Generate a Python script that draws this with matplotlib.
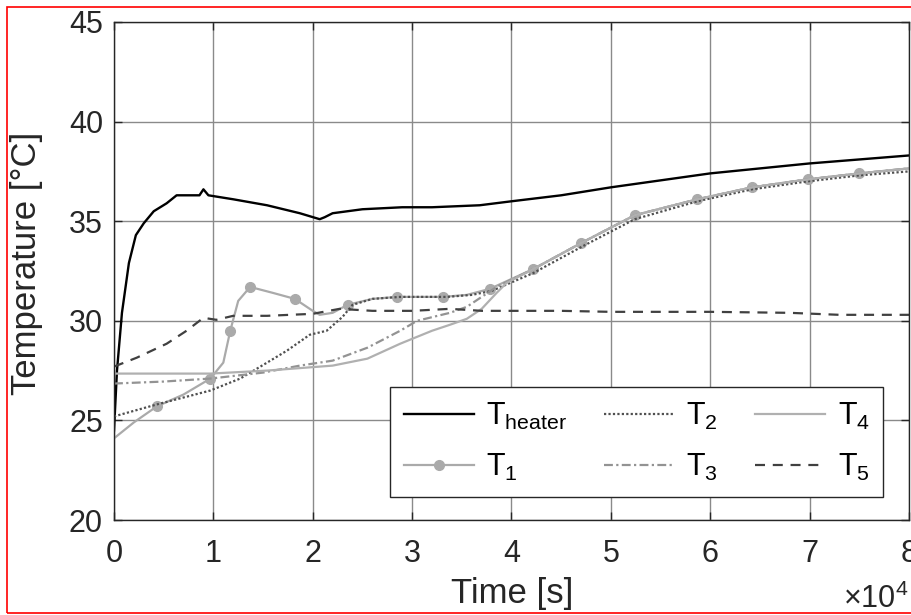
import numpy as np
import matplotlib.pyplot as plt
from matplotlib.patches import Rectangle

# time in units of 1e4 s, temperatures in deg C
t_heater = [0, 0.03, 0.08, 0.15, 0.22, 0.3, 0.4, 0.53, 0.63, 0.75, 0.86, 0.9, 0.95, 1.2,
            1.54, 1.87, 2.07, 2.12, 2.2, 2.5, 2.9, 3.2, 3.68, 4.0, 4.5, 5.0, 5.5, 6.0,
            6.5, 7.0, 7.5, 8.0]
T_heater = [24.5, 27.5, 30.4, 32.9, 34.3, 34.9, 35.5, 35.9, 36.3, 36.3, 36.3, 36.6, 36.3, 36.1,
            35.8, 35.4, 35.1, 35.2, 35.4, 35.6, 35.7, 35.7, 35.8, 36.0, 36.3, 36.7, 37.05, 37.4,
            37.65, 37.9, 38.1, 38.3]

t_1 = [0, 0.2, 0.43, 0.7, 0.97, 1.1, 1.17, 1.25, 1.37, 1.6, 1.82, 2.0, 2.07, 2.2,
       2.35, 2.6, 2.85, 3.31, 3.55, 3.78, 4.22, 4.7, 5.24, 5.87, 6.42, 6.98, 7.5, 8.0]
T_1 = [24.1, 24.9, 25.7, 26.3, 27.1, 27.9, 29.5, 31.0, 31.7, 31.4, 31.1, 30.5, 30.3, 30.4,
       30.8, 31.1, 31.2, 31.2, 31.3, 31.6, 32.6, 33.9, 35.3, 36.1, 36.7, 37.1, 37.4, 37.65]
marks_1 = [2, 4, 6, 8, 10, 14, 16, 17, 19, 20, 21, 22, 23, 24, 25, 26]

t_2 = [0, 0.43, 0.97, 1.27, 1.54, 1.74, 1.97, 2.14, 2.3, 2.4, 2.6, 2.88, 3.35, 3.6,
       3.8, 4.22, 4.7, 5.24, 5.87, 6.42, 6.98, 7.5, 8.0]
T_2 = [25.2, 25.8, 26.5, 27.1, 27.9, 28.5, 29.3, 29.5, 30.2, 30.8, 31.1, 31.2, 31.2, 31.3,
       31.5, 32.4, 33.7, 35.1, 36.0, 36.6, 37.0, 37.3, 37.5]

t_3 = [0, 0.5, 0.97, 1.5, 1.87, 2.2, 2.55, 2.88, 3.05, 3.38, 3.55, 3.7, 3.85, 4.22,
       4.7, 5.24, 5.87, 6.42, 6.98, 7.5, 8.0]
T_3 = [26.85, 26.95, 27.1, 27.4, 27.75, 28.0, 28.65, 29.5, 30.0, 30.4, 30.7, 31.2, 31.7, 32.6,
       33.9, 35.3, 36.1, 36.7, 37.1, 37.4, 37.65]

t_4 = [0, 0.5, 0.97, 1.54, 2.2, 2.55, 2.88, 3.2, 3.38, 3.55, 3.7, 3.85, 3.95, 4.22,
       4.7, 5.24, 5.87, 6.42, 6.98, 7.5, 8.0]
T_4 = [27.35, 27.35, 27.35, 27.5, 27.75, 28.1, 28.85, 29.5, 29.8, 30.1, 30.6, 31.4, 31.9, 32.6,
       33.9, 35.3, 36.1, 36.7, 37.1, 37.4, 37.65]

t_5 = [0, 0.23, 0.53, 0.73, 0.9, 1.03, 1.2, 1.54, 2.0, 2.27, 2.6, 3.0, 3.38, 3.7,
       4.5, 5.0, 6.0, 6.8, 7.3, 8.0]
T_5 = [27.7, 28.15, 28.85, 29.5, 30.15, 30.05, 30.25, 30.25, 30.35, 30.6, 30.5, 30.5, 30.6, 30.5,
       30.5, 30.45, 30.45, 30.4, 30.3, 30.3]

plt.rcParams['font.family'] = 'Liberation Sans'
plt.rcParams['mathtext.fontset'] = 'custom'
plt.rcParams['mathtext.rm'] = 'Liberation Sans'
plt.rcParams['mathtext.it'] = 'Liberation Sans'

fig = plt.figure(figsize=(9.12, 6.15), dpi=100)
ax = fig.add_axes([114 / 912, 95 / 615, 795 / 912, 498 / 615])

ax.plot(t_heater, T_heater, color='black', lw=1.7, label=r'T$_{\mathrm{heater}}$')
ax.plot(t_1, T_1, color='#aaaaaa', lw=1.6, marker='o', ms=7, markevery=marks_1,
        label=r'T$_{\mathrm{1}}$')
ax.plot(t_2, T_2, color='#505050', lw=1.6, ls=(0, (1, 1)), label=r'T$_{\mathrm{2}}$')
ax.plot(t_3, T_3, color='#939393', lw=1.6, ls=(0, (4, 1.5, 1, 1.5)), label=r'T$_{\mathrm{3}}$')
ax.plot(t_4, T_4, color='#b0b0b0', lw=1.6, label=r'T$_{\mathrm{4}}$')
ax.plot(t_5, T_5, color='#404040', lw=1.6, ls=(0, (4.5, 3.5)), label=r'T$_{\mathrm{5}}$')

ax.set_xlim(0, 8)
ax.set_ylim(20, 45)
ax.set_xticks(range(0, 9))
ax.set_yticks(range(20, 46, 5))
ax.grid(True, color='#8a8a8a', lw=1.0)
ax.tick_params(direction='in', length=6, width=1, top=True, right=True,
               labelsize=22, colors='#262626')
ax.tick_params(axis='x', pad=14)
ax.tick_params(axis='y', pad=8)
for s in ax.spines.values():
    s.set_color('#262626')
    s.set_linewidth(1.0)

ax.set_xlabel('Time [s]', fontsize=25, color='#262626')
ax.set_ylabel('Temperature [°C]', fontsize=25, color='#262626')
ax.xaxis.set_label_coords(0.5006, -0.1145)
ax.yaxis.set_label_coords(-0.089, 0.516)
fig.text(0.9956, 0.012, r'$\times$10$^{\mathrm{4}}$', fontsize=22, color='#262626',
         ha='right', va='baseline')

leg = ax.legend(ncol=3, loc='upper left', bbox_to_anchor=(0.347, 0.267),
                borderaxespad=0, fontsize=22, handlelength=2.3, handletextpad=0.4,
                columnspacing=1.2, fancybox=False, framealpha=1, borderpad=0.45,
                labelspacing=0.65, edgecolor='#262626')
leg.get_frame().set_linewidth(1.0)

fig.patches.append(Rectangle((7 / 912, 2 / 615), 1.0, 606 / 615, transform=fig.transFigure,
                             fill=False, edgecolor='red', lw=1.2, clip_on=False))

fig.savefig('out.png', dpi=100)
